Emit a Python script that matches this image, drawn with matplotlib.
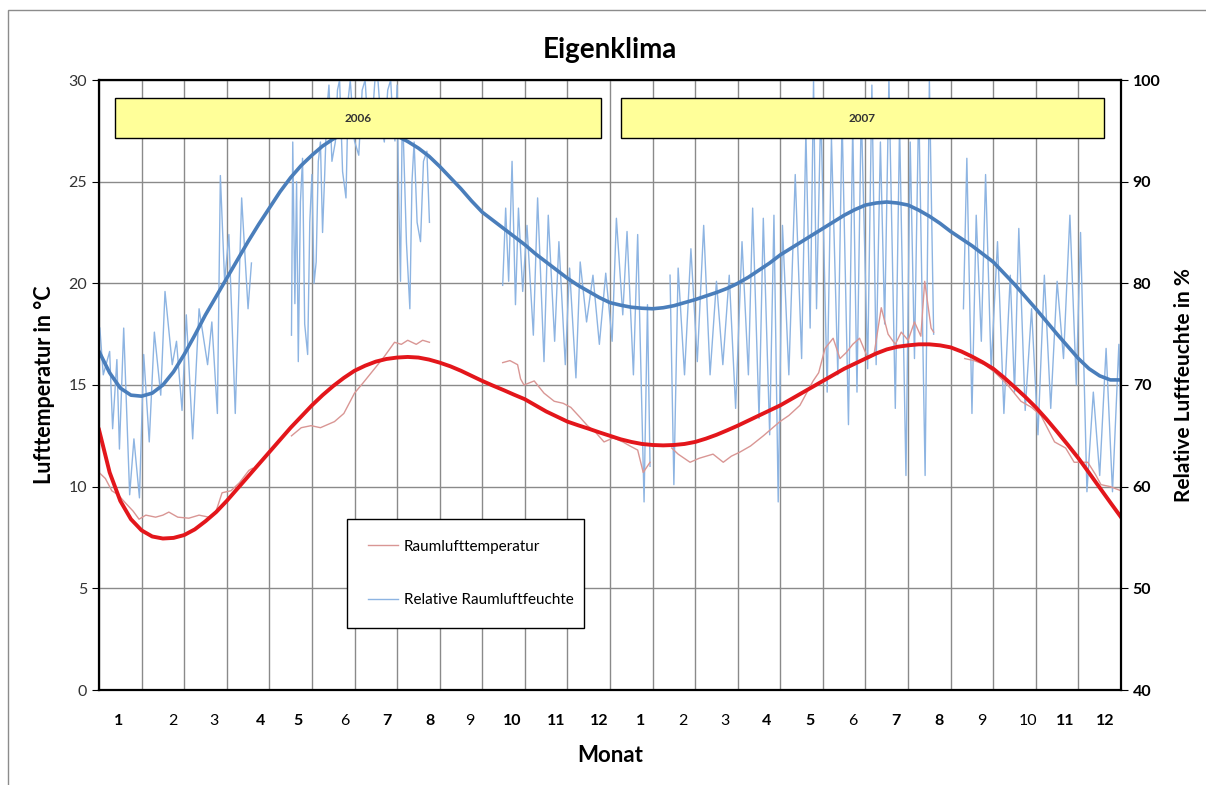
import numpy as np
import matplotlib.pyplot as plt
from matplotlib.patches import Rectangle

plt.rcParams["font.family"] = ["Lato", "DejaVu Sans"]

nan = float("nan")

# x-Achse: Monate 2006 und 2007 (0 = Anfang Januar 2006, 24 = Ende Dezember 2007)
monate = [str(m) for m in range(1, 13)] * 2
jahre = ["2006", "2007"]

# Messwerte Raumlufttemperatur (Luecken = fehlende Messungen)
t_zeit = [0.0, 0.15, 0.3, 0.45, 0.62, 0.8, 0.94, 1.1, 1.33, 1.5, 1.64, 1.85, 2.11, 2.35, 2.58, 2.75, 2.89, 3.1, 3.3, 3.52, 3.6, nan,
          4.52, 4.75, 4.98, 5.2, 5.53, 5.75, 6.0, 6.2, 6.47, 6.7, 6.94, 7.1, 7.25, 7.45, 7.6, 7.76, nan,
          9.48, 9.65, 9.83, 9.9, 9.98, 10.22, 10.45, 10.69, 10.9, 11.08, 11.3, 11.47, 11.65, 11.86, 12.08, 12.3, 12.47, 12.65, 12.78, 12.94, nan,
          13.45, 13.6, 13.88, 14.1, 14.42, 14.66, 14.85, 15.05, 15.3, 15.6, 15.99, 16.2, 16.46, 16.77, 16.9, 17.05, 17.24, 17.4, 17.55, 17.7,
          17.86, 18.06, 18.2, 18.37, 18.53, 18.7, 18.84, 19.0, 19.15, 19.3, 19.39, 19.54, 19.6, nan,
          20.33, 20.55, 20.8, 21.05, 21.34, 21.65, 21.9, 22.12, 22.44, 22.7, 22.9, 23.22, 23.4, 23.53, 23.75, 24.0]
t_roh = [10.7, 10.4, 9.8, 9.6, 9.2, 8.8, 8.4, 8.6, 8.5, 8.6, 8.75, 8.5, 8.45, 8.6, 8.5, 8.8, 9.7, 9.8, 10.2, 10.8, 10.9, nan,
         12.5, 12.9, 13.0, 12.9, 13.2, 13.6, 14.6, 15.1, 15.8, 16.4, 17.1, 17.0, 17.2, 17.0, 17.2, 17.1, nan,
         16.1, 16.2, 16.0, 15.3, 15.0, 15.2, 14.6, 14.2, 14.1, 13.9, 13.4, 13.0, 12.7, 12.2, 12.4, 12.2, 12.0, 11.8, 10.7, 11.2, nan,
         11.9, 11.6, 11.2, 11.4, 11.6, 11.2, 11.5, 11.7, 12.0, 12.5, 13.2, 13.5, 14.0, 15.2, 15.6, 16.8, 17.3, 16.3, 16.6, 17.0,
         17.3, 16.3, 16.5, 18.8, 17.5, 17.0, 17.6, 17.2, 18.1, 17.4, 20.1, 17.8, 17.6, nan,
         16.3, 16.2, 16.0, 15.6, 15.0, 14.2, 13.9, 13.5, 12.2, 11.9, 11.2, 11.2, 10.6, 10.1, 10.0, 9.8]

# Messwerte relative Raumluftfeuchte (Spitzen und Taeler)
rf_zeit = [0.02, 0.1, 0.25, 0.32, 0.42, 0.48, 0.58, 0.72, 0.82, 0.95, 1.05, 1.18, 1.3, 1.45, 1.55, 1.72, 1.82, 1.95, 2.05, 2.2,
           2.35, 2.55, 2.65, 2.78, 2.85, 2.95, 3.05, 3.2, 3.35, 3.5, 3.58, nan,
           4.52, 4.55, 4.6, 4.64, 4.68, 4.73, 4.78, 4.83, 4.9, 4.95, 5.0, 5.05, 5.1, 5.15, 5.2, 5.25, 5.3, 5.35, 5.4, 5.47,
           5.55, 5.6, 5.65, 5.72, 5.8, 5.85, 5.9, 6.0, 6.1, 6.18, 6.25, 6.32, 6.4, 6.48, 6.55, 6.62, 6.7, 6.78, 6.85, 6.9,
           6.95, 7.0, 7.04, 7.08, 7.12, 7.15, 7.22, 7.3, 7.35, 7.4, 7.47, 7.55, 7.62, 7.7, 7.76, nan,
           9.48, 9.55, 9.62, 9.7, 9.78, 9.85, 9.95, 10.05, 10.2, 10.3, 10.45, 10.55, 10.7, 10.8, 10.95, 11.05, 11.2, 11.3, 11.45, 11.6,
           11.75, 11.9, 12.05, 12.15, 12.3, 12.4, 12.55, 12.65, 12.8, 12.88, 12.94, nan,
           13.41, 13.5, 13.6, 13.75, 13.9, 14.05, 14.2, 14.35, 14.5, 14.65, 14.8, 14.95, 15.1, 15.25, 15.35, 15.5, 15.6, 15.75, 15.85, 15.95,
           16.05, 16.2, 16.35, 16.5, 16.6, 16.7, 16.78, 16.85, 16.95, 17.1, 17.2, 17.35, 17.45, 17.6, 17.7, 17.8, 17.9, 18.05, 18.15, 18.25,
           18.35, 18.45, 18.55, 18.7, 18.8, 18.95, 19.05, 19.15, 19.25, 19.4, 19.5, 19.6, nan,
           20.3, 20.38, 20.5, 20.6, 20.72, 20.82, 20.95, 21.1, 21.25, 21.4, 21.5, 21.6, 21.75, 21.9, 22.05, 22.2, 22.35, 22.5, 22.65, 22.8,
           22.95, 23.05, 23.2, 23.35, 23.5, 23.65, 23.8, 23.95, 24.0]
rf_roh = [75.6, 71, 73.3, 65.7, 72.5, 63.7, 75.6, 59.2, 64.7, 58.9, 73, 64.4, 75.2, 69, 79.2, 72, 74.3, 67.5, 76.9, 64.7,
          77.5, 72, 76.2, 67.2, 90.6, 80.2, 84.8, 67.2, 88.4, 77.5, 82, nan,
          74.9, 93.9, 78, 90, 72.3, 88, 92.3, 76, 73, 86, 90.7, 80, 82.1, 92, 93.9, 85, 90.7, 97, 99.5, 92,
          93.9, 99, 100, 91, 88.4, 98, 100, 94, 92.6, 99, 100, 95, 95, 100, 100, 96, 93.9, 99, 100, 96,
          94, 99.5, 88, 80.2, 96, 93.9, 84, 77.5, 90, 93.9, 86, 84.1, 92, 93, 86, nan,
          79.8, 87.4, 80.2, 92, 77.9, 87.4, 79.2, 85.7, 74.9, 88.4, 72.3, 86.7, 74.3, 84.1, 72, 81.5, 70.7, 82.1, 76.2, 80.8,
          74, 81, 74.3, 86.4, 76.9, 85.1, 71, 84.8, 58.5, 77.9, 62, nan,
          80.8, 60.2, 81.5, 71, 83.4, 72.3, 85.7, 71, 80.2, 72, 80.8, 67.7, 84.1, 71, 87.4, 66.7, 86.4, 65.1, 86.7, 58.5,
          85.7, 71, 90.7, 72.6, 94.9, 75.6, 100, 77.5, 97.2, 69.3, 94.3, 71, 96.2, 66.1, 95.6, 69.3, 97.2, 71.6, 99.5, 72,
          93.9, 76, 100, 67.7, 95.6, 61.1, 93.9, 72.6, 97.9, 61.1, 100, 75, nan,
          77.5, 92.3, 67.2, 86.7, 74.3, 90.7, 71.6, 84.1, 67.2, 80.8, 69.3, 85.4, 67.5, 77.5, 65.1, 80.8, 67.7, 80.2, 72.6, 86.7,
          70, 85, 59.5, 69.3, 61.1, 73.6, 59.5, 74, 66]

trend_zeit = np.arange(0, 24.01, 0.25)
trend_temp = [12.8, 10.7, 9.3, 8.4, 7.85, 7.55, 7.45, 7.48, 7.62, 7.9, 8.3, 8.75, 9.3, 9.9, 10.5, 11.1,
              11.7, 12.3, 12.9, 13.45, 14.0, 14.5, 14.95, 15.35, 15.7, 15.95, 16.15, 16.28, 16.35, 16.38, 16.35, 16.25,
              16.1, 15.92, 15.7, 15.45, 15.2, 14.97, 14.75, 14.52, 14.3, 14.0, 13.7, 13.45, 13.2, 13.02, 12.85, 12.67,
              12.5, 12.33, 12.2, 12.1, 12.05, 12.03, 12.05, 12.1, 12.2, 12.36, 12.55, 12.77, 13.0, 13.25, 13.5, 13.75,
              14.0, 14.3, 14.6, 14.9, 15.2, 15.5, 15.8, 16.05, 16.3, 16.55, 16.75, 16.88, 16.95, 17.0, 17.0, 16.95,
              16.85, 16.65, 16.4, 16.12, 15.8, 15.37, 14.9, 14.42, 13.9, 13.32, 12.7, 12.06, 11.4, 10.68, 9.95, 9.22,
              8.5]
trend_rf = [73.3, 71.2, 69.7, 69.0, 68.9, 69.2, 70.0, 71.3, 73.0, 74.9, 76.9, 78.7, 80.5, 82.3, 84.1, 85.8,
            87.4, 89.0, 90.4, 91.6, 92.6, 93.5, 94.2, 94.7, 95.0, 95.2, 95.2, 94.9, 94.5, 93.95, 93.3, 92.5,
            91.5, 90.4, 89.3, 88.1, 87.0, 86.2, 85.4, 84.6, 83.8, 82.9, 82.1, 81.3, 80.5, 79.8, 79.2, 78.6,
            78.1, 77.85, 77.65, 77.55, 77.5, 77.6, 77.8, 78.1, 78.4, 78.75, 79.1, 79.5, 80.0, 80.6, 81.3, 82.0,
            82.8, 83.45, 84.1, 84.75, 85.4, 86.05, 86.7, 87.25, 87.7, 87.9, 88.0, 87.9, 87.7, 87.2, 86.6, 85.9,
            85.1, 84.4, 83.7, 82.9, 82.1, 81.0, 79.9, 78.7, 77.5, 76.25, 75.0, 73.8, 72.6, 71.6, 70.9, 70.5,
            70.5]

# Layout: Lage der Monatsbeschriftungen und der Jahresfelder
label_pos = [0.47, 1.74, 2.7, 3.8, 4.67, 5.77, 6.76, 7.77, 8.71, 9.7, 10.73, 11.74,
             12.72, 13.71, 14.69, 15.68, 16.69, 17.7, 18.71, 19.72, 20.73, 21.81, 22.7, 23.64]
label_fett = [1, 0, 0, 1, 1, 0, 1, 1, 0, 1, 1, 1,
              1, 0, 0, 1, 1, 0, 1, 1, 0, 0, 1, 1]
jahr_von = [0.38, 12.25]
jahr_bis = [11.8, 23.6]

fig = plt.figure(figsize=(12.06, 7.85), dpi=100)
rect = [99 / 1206, 1 - 690 / 785, 1022 / 1206, 610 / 785]

# untere Achse: Luftfeuchte (rechts) mit Gitter, obere Achse: Temperatur (links)
ax_rf = fig.add_axes(rect)
ax_t = fig.add_axes(rect)
ax_rf.set_zorder(1)
ax_t.set_zorder(2)
ax_t.patch.set_visible(False)

# Rahmen um das ganze Diagramm
fig.patches.append(Rectangle((8 / 1206, -0.1), 1.2, 1.1 - 10 / 785, transform=fig.transFigure,
                             fill=False, edgecolor="#8c8c8c", lw=1))

l_rf, = ax_rf.plot(rf_zeit, rf_roh, color="#8db4e2", lw=1, label="Relative Raumluftfeuchte")
ax_rf.plot(trend_zeit, trend_rf, color="#4a7ebb", lw=2.6)
ax_rf.set_xlim(0, 24)
ax_rf.set_ylim(40, 100)
ax_rf.set_xticks(range(25))
ax_rf.tick_params(axis="x", length=0, labelbottom=False)
ax_rf.yaxis.tick_right()
ax_rf.yaxis.set_label_position("right")
ax_rf.set_yticks(range(40, 101, 10))
ax_rf.tick_params(axis="y", direction="out", length=5, labelsize=11.5)
for lab in ax_rf.get_yticklabels():
    lab.set_fontweight("bold")
ax_rf.grid(True, color="#8a8a8a", lw=1)
for sp in ax_rf.spines.values():
    sp.set_visible(False)
ax_rf.set_ylabel("Relative Luftfeuchte in %", fontsize=15, fontweight="bold", labelpad=10)

l_t, = ax_t.plot(t_zeit, t_roh, color="#d99694", lw=1, label="Raumlufttemperatur")
ax_t.plot(trend_zeit, trend_temp, color="#e3161b", lw=2.8)
ax_t.set_xlim(0, 24)
ax_t.set_ylim(0, 30)
ax_t.set_yticks(range(0, 31, 5))
ax_t.tick_params(axis="y", direction="out", length=5, labelsize=11.5, labelcolor="#333333")
ax_t.set_xticks(label_pos)
ax_t.set_xticklabels(monate)
ax_t.tick_params(axis="x", length=0, pad=17.5, labelsize=11.5)
for lab, fett in zip(ax_t.get_xticklabels(), label_fett):
    lab.set_fontweight("bold" if fett else "normal")
for sp in ax_t.spines.values():
    sp.set_color("black")
    sp.set_linewidth(1.6)

ax_t.set_ylabel("Lufttemperatur in °C", fontsize=15.5, fontweight="bold", labelpad=10)
ax_t.set_xlabel("Monat", fontsize=16, fontweight="bold", labelpad=12)
ax_t.set_title("Eigenklima", fontsize=20, fontweight="bold", pad=16)

# Jahresfelder
for jahr, x0, x1 in zip(jahre, jahr_von, jahr_bis):
    ax_t.add_patch(Rectangle((x0, 27.15), x1 - x0, 1.95, facecolor="#ffff99",
                             edgecolor="black", lw=1, zorder=6))
    ax_t.text((x0 + x1) / 2, 28.1, jahr, ha="center", va="center", fontsize=8.5,
              fontweight="bold", color="#333333", zorder=7)

leg = ax_t.legend(handles=[l_t, l_rf], loc="upper left", bbox_to_anchor=(0.2427, 0.2803, 0.2319, 0),
                  mode="expand", borderaxespad=0, fontsize=11, labelspacing=2.6, borderpad=1.35,
                  handlelength=2.0, handletextpad=0.35, fancybox=False, framealpha=1)
leg.get_frame().set_edgecolor("black")
leg.get_frame().set_linewidth(1)
leg.set_zorder(8)

fig.savefig("out.png", dpi=100)
